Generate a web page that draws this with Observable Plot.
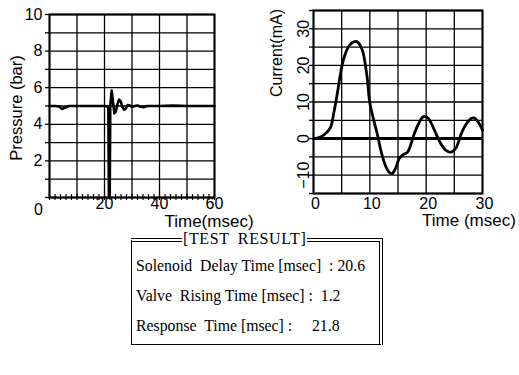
<!DOCTYPE html>
<html><head><meta charset="utf-8">
<script src="https://cdn.jsdelivr.net/npm/d3@7"></script>
<script src="https://cdn.jsdelivr.net/npm/@observablehq/plot@0.6"></script>
<style>
body{margin:0;background:#fff;}
#root{position:relative;width:519px;height:375px;overflow:hidden;font-family:"Liberation Sans",sans-serif;background:#fff;}
.chart{position:absolute;top:0;}
#box{position:absolute;left:131px;top:238px;width:252px;height:107px;box-sizing:border-box;
 border-top:4px double #000;border-right:4px double #000;border-left:1px solid #000;border-bottom:1px solid #000;
 font-family:"Liberation Serif",serif;font-size:15.8px;color:#000;}
#boxTitle{position:absolute;left:50px;top:-12px;background:#fff;padding:0 1px;white-space:pre;line-height:17px;font-size:16px;word-spacing:4px;letter-spacing:0.6px;}
.row{position:absolute;left:4px;white-space:pre;line-height:17px;}
</style></head><body><div id="root"></div>
<script>
// Pressure trace (msec, bar)
const pressureTime  = [0,2,3.5,4.6,5.8,7,10,15,20,21.4,21.6,21.9,22.1,22.6,23.1,23.6,24.1,24.7,25.3,25.9,26.5,27.1,27.7,28.4,29.2,30,31,32,33,34.2,35.5,37,40,45,50,55,60];
const pressureValue = [5,5,4.97,4.84,4.92,5,5,5,5,4.95,0,0,5,5.85,5.2,4.6,4.7,5.1,5.35,5.25,4.95,4.8,4.85,5.05,5.02,4.95,5.0,5.03,4.97,4.93,5,5,5,5.02,5,5,5];
// Current trace (msec, mA)
const currentTime  = [0,1,2,3,3.6,4.3,5,5.6,6.3,7,7.7,8.6,9.5,10,10.7,11.3,12,12.8,13.5,14,14.6,15.2,15.8,16.7,17.3,17.9,18.7,19.5,20.2,20.8,21.7,22.6,23.5,24.4,25.3,26.2,27.1,28,28.6,29.2,30];
const currentValue = [0,0.3,1.2,3,7,13,19.5,23,25.3,26.3,26.5,24.5,17,9.7,5,1.4,-3.5,-7.5,-9.3,-9.5,-8,-5.5,-4.5,-3.7,-1.5,1.4,4.2,6,5.8,4.5,1.5,-1.4,-3.2,-3.7,-2.5,1.2,4,5.5,5.6,4.6,2.3];
// Axes
const pressureDomain = [0,10];
const pressureTimeDomain = [0,60];
const pressureYTicks = [2,4,6,8,10];
const pressureXTicks = [20,40,60];
const pressureGridX = [0,10,20,30,40,50,60];
const pressureGridY = [0,1,2,3,4,5,6,7,8,9,10];
const pressureMinorX = [0,2,4,6,8,10,12,14,16,18,20,22,24,26,28,30,32,34,36,38,40,42,44,46,48,50,52,54,56,58,60];
const currentDomain = [-15,35];
const currentTimeDomain = [0,30];
const currentYTicks = [-10,0,10,20,30];
const currentXTicks = [0,10,20,30];
const currentGridX = [0,5,10,15,20,25,30];
const currentGridY = [-15,-10,-5,0,5,10,15,20,25,30,35];
// Titles
const pressureYTitle = "Pressure (bar)";
const pressureXTitle = "Time(msec)";
const currentYTitle = "Current(mA)";
const currentXTitle = "Time (msec)";
// Result box
const resultTitle = "[TEST RESULT]";
const resultRows = ["Solenoid  Delay Time [msec]  : 20.6", "Valve  Rising Time [msec] :  1.2", "Response  Time [msec] :     21.8"];

const root = document.getElementById("root");
const pData = pressureTime.map((t,i)=>({t, v: pressureValue[i]}));
const cData = currentTime.map((t,i)=>({t, v: currentValue[i]}));
const font = {fontFamily:"Liberation Sans", fontSize:"16px", color:"#000", background:"transparent", overflow:"visible"};

const left = Plot.plot({
  width: 270, height: 230, marginLeft: 49, marginRight: 56, marginTop: 14, marginBottom: 33,
  x: {domain: pressureTimeDomain}, y: {domain: pressureDomain},
  style: font,
  marks: [
    Plot.ruleX(pressureGridX, {stroke:"#000", strokeWidth:1.3}),
    Plot.ruleY(pressureGridY, {stroke:"#000", strokeWidth:1.3}),
    Plot.ruleX(pressureMinorX, {y1:0, y2:0, insetTop:-3, insetBottom:-3, stroke:"#000", strokeWidth:1.2}),
    Plot.frame({stroke:"#000", strokeWidth:2}),
    Plot.axisY(pressureGridY, {tickSize:4, tickFormat:()=>"", label:null, strokeWidth:1.3}),
    Plot.axisY(pressureYTicks, {tickSize:0, tickPadding:7, label:null, fontSize:16}),
    Plot.axisX(pressureXTicks, {tickSize:0, tickPadding:0, label:null, fontSize:16}),
    Plot.text([0], {x:0, y:0, text:d=>String(d), dx:-11, dy:12, fontSize:16}),
    Plot.line(pData, {x:"t", y:"v", stroke:"#000", strokeWidth:2.6}),
    Plot.text([pressureYTitle], {frameAnchor:"left", rotate:-90, textAnchor:"middle", dx:-33, dy:2, fontSize:16.5}),
    Plot.text([pressureXTitle], {frameAnchor:"bottom", lineAnchor:"middle", dx:77, dy:24, fontSize:17})
  ]
});
left.classList.add("chart");
left.style.left = "0px";
root.appendChild(left);

const right = Plot.plot({
  width: 259, height: 230, marginLeft: 53, marginRight: 37, marginTop: 10, marginBottom: 37,
  x: {domain: currentTimeDomain}, y: {domain: currentDomain},
  style: font,
  marks: [
    Plot.ruleX(currentGridX, {stroke:"#000", strokeWidth:1.3}),
    Plot.ruleY(currentGridY, {stroke:"#000", strokeWidth:1.3}),
    Plot.ruleY([0], {stroke:"#000", strokeWidth:3}),
    Plot.frame({stroke:"#000", strokeWidth:2}),
    Plot.axisY(currentGridY, {tickSize:4, tickFormat:()=>"", label:null, strokeWidth:1.3}),
    Plot.axisY(currentYTicks, {tickSize:0, tickPadding:5, tickRotate:-90, label:null, fontSize:16}),
    Plot.axisX(currentXTicks, {tickSize:0, tickPadding:4, label:null, fontSize:16, dx:2}),
    Plot.line(cData, {x:"t", y:"v", stroke:"#000", strokeWidth:2.8, curve:"catmull-rom"}),
    Plot.text([currentYTitle], {frameAnchor:"left", rotate:-90, textAnchor:"middle", dx:-37, dy:-49, fontSize:16}),
    Plot.text([currentXTitle], {frameAnchor:"bottom", lineAnchor:"middle", dx:71, dy:27, fontSize:17})
  ]
});
right.classList.add("chart");
right.style.left = "260px";
root.appendChild(right);

const box = document.createElement("div");
box.id = "box";
const bt = document.createElement("div");
bt.id = "boxTitle"; bt.textContent = resultTitle;
box.appendChild(bt);
resultRows.forEach((r,i)=>{
  const d = document.createElement("div");
  d.className = "row"; d.textContent = r; d.style.top = (15 + i*30) + "px";
  box.appendChild(d);
});
root.appendChild(box);
</script></body></html>
